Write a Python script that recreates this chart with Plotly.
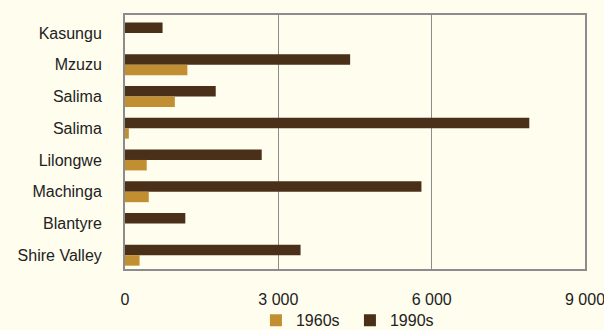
import plotly.graph_objects as go

regions = ["Kasungu", "Mzuzu", "Salima", "Salima", "Lilongwe", "Machinga", "Blantyre", "Shire Valley"]
values_1960s = [0, 1220, 975, 75, 425, 465, 0, 285]
values_1990s = [735, 4405, 1775, 7910, 2675, 5800, 1180, 3435]
x_tick_vals = [0, 3000, 6000, 9000]
x_tick_text = ["0", "3 000", "6 000", "9 000"]

pos = list(range(len(regions)))
FONT = "Liberation Sans, Arial, sans-serif"

fig = go.Figure()
fig.add_trace(go.Bar(y=pos, x=values_1990s, orientation="h", name="1990s",
                     marker=dict(color="#4A2F19", line=dict(width=0))))
fig.add_trace(go.Bar(y=pos, x=values_1960s, orientation="h", name="1960s",
                     marker=dict(color="#C18F32", line=dict(width=0))))

fig.update_layout(
    width=604, height=330,
    margin=dict(l=125, r=19, t=15, b=61, autoexpand=False),
    paper_bgcolor="#FFFDEE", plot_bgcolor="#FFFDEE",
    barmode="group", bargap=0.34, bargroupgap=0,
    font=dict(family=FONT, size=16, color="#222222"),
    showlegend=True,
    legend=dict(orientation="h", traceorder="reversed", x=0.489, xanchor="center",
                y=-0.135, yanchor="top", font=dict(size=16), itemwidth=30,
                entrywidth=49, entrywidthmode="pixels",
                bgcolor="rgba(0,0,0,0)"),
    xaxis=dict(range=[0, 9000], tickvals=x_tick_vals, ticktext=x_tick_text,
               showgrid=True, gridcolor="#8C8C8C", gridwidth=1,
               showline=True, mirror=True, linecolor="#8C8C8C", linewidth=2,
               zeroline=False, ticks="", ticklabelstandoff=15, automargin=False,
               ticklabeloverflow="allow"),
    yaxis=dict(tickvals=pos, ticktext=regions, range=[7.435, -0.565],
               showgrid=False, zeroline=False, automargin=False,
               showline=True, mirror=True, linecolor="#8C8C8C", linewidth=2,
               ticks="", ticklabelstandoff=18),
)

fig.write_html("out.html", config={"displayModeBar": False},
               post_script="document.body.style.margin='0';document.body.style.background='#FFFDEE';")
